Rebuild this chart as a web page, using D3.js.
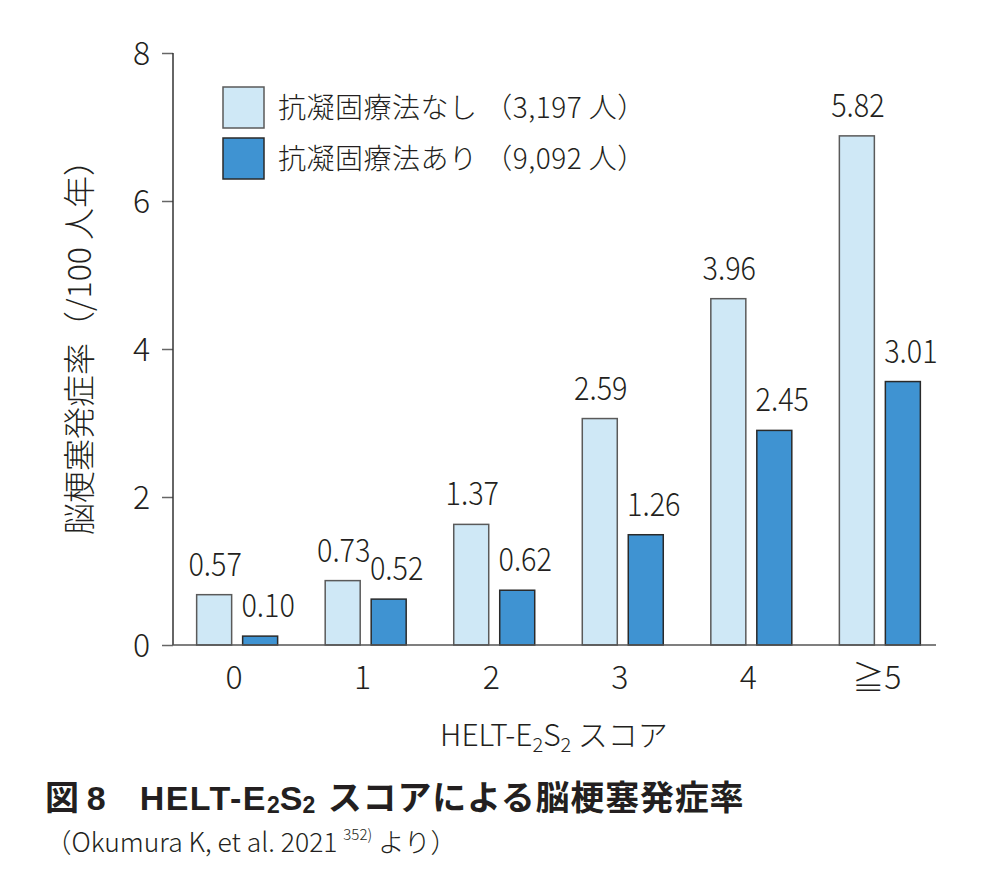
<!DOCTYPE html>
<html>
<head>
<meta charset="utf-8">
<script src="https://cdn.jsdelivr.net/npm/d3@7"></script>
<style>
  html, body { margin: 0; padding: 0; background: #fff; }
  svg text { font-family: "Noto Sans CJK JP", "Noto Sans", sans-serif; fill: #231f20; font-weight: 300; }
</style>
</head>
<body>
<div id="chart"></div>
<script>
// カテゴリ（HELT-E2S2 スコア）
const categories = ['0', '1', '2', '3', '4', '≧5'];
// 棒の高さ
const barsNone = [0.68, 0.87, 1.63, 3.06, 4.68, 6.88];
const barsWith = [0.12, 0.62, 0.74, 1.49, 2.90, 3.56];
// 棒の上の数値ラベル
const labelsNone = ['0.57', '0.73', '1.37', '2.59', '3.96', '5.82'];
const labelsWith = ['0.10', '0.52', '0.62', '1.26', '2.45', '3.01'];
const yTicks = [0, 2, 4, 6, 8];
const seriesNames = ['抗凝固療法なし （3,197 人）', '抗凝固療法あり （9,092 人）'];
const seriesKeys = ['none', 'with'];
const fills = ['#cfe8f6', '#3f93d2'];
const strokes = ['#5a5a5a', '#2a2a2a'];

const width = 1004;
const height = 894;

const svg = d3.select('#chart')
  .append('svg')
  .attr('width', width)
  .attr('height', height)
  .attr('viewBox', `0 0 ${width} ${height}`);

const x0 = 173;
const y = d3.scaleLinear().domain([0, 8]).range([645, 53]);

const x = d3.scaleBand()
  .domain(categories)
  .range([x0, 944])
  .paddingInner(0.37)
  .paddingOuter(0.184);

const xs = d3.scaleBand()
  .domain(seriesKeys)
  .range([0, x.bandwidth()])
  .paddingInner(0.239);

// 縦軸
const yAxis = d3.axisLeft(y).tickValues(yTicks).tickSize(11).tickPadding(12);
const gy = svg.append('g')
  .attr('transform', `translate(${x0},0)`)
  .call(yAxis);
gy.select('.domain').remove();
gy.selectAll('.tick line').attr('stroke', '#666').attr('stroke-width', 1.5);
gy.selectAll('.tick text')
  .style('font-size', '32px')
  .style('font-family', '"Noto Sans CJK JP", sans-serif')
  .attr('fill', '#231f20')
  .attr('dy', '0.36em');

svg.append('line')
  .attr('x1', x0).attr('x2', x0)
  .attr('y1', y(8)).attr('y2', y(0))
  .attr('stroke', '#333').attr('stroke-width', 1.5);

// 棒
const groups = svg.append('g')
  .selectAll('g')
  .data(categories)
  .join('g')
  .attr('transform', d => `translate(${x(d)},0)`);

const rows = (i) => [
  { key: 'none', v: barsNone[i], label: labelsNone[i] },
  { key: 'with', v: barsWith[i], label: labelsWith[i] }
];

groups.selectAll('rect')
  .data((d, i) => rows(i))
  .join('rect')
  .attr('x', d => xs(d.key))
  .attr('width', xs.bandwidth())
  .attr('y', d => y(d.v))
  .attr('height', d => y(0) - y(d.v))
  .attr('fill', (d, j) => fills[j])
  .attr('stroke', (d, j) => strokes[j])
  .attr('stroke-width', 1.5);

// 数値ラベル（少し細身に）
groups.selectAll('text.val')
  .data((d, i) => rows(i))
  .join('text')
  .attr('class', 'val')
  .attr('transform', d => {
    const cx = xs(d.key) + xs.bandwidth() / 2 + (d.key === 'none' ? 1 : 8);
    return `translate(${cx},${y(d.v) - 19}) scale(0.9,1)`;
  })
  .attr('text-anchor', 'middle')
  .style('font-size', '32px')
  .text(d => d.label);

// 横軸の基線
svg.append('line')
  .attr('x1', x0).attr('x2', 936)
  .attr('y1', y(0)).attr('y2', y(0))
  .attr('stroke', '#555').attr('stroke-width', 1.5);

// 横軸ラベル
svg.append('g')
  .selectAll('text')
  .data(categories)
  .join('text')
  .attr('x', d => x(d) + x.bandwidth() / 2 - 3)
  .attr('y', 689)
  .attr('text-anchor', 'middle')
  .style('font-size', '32px')
  .text(d => d);

// 凡例
const legend = svg.append('g').attr('transform', 'translate(223,87)');
seriesNames.forEach((name, i) => {
  const row = legend.append('g').attr('transform', `translate(0,${i * 51})`);
  row.append('rect')
    .attr('width', 41).attr('height', 41)
    .attr('fill', fills[i])
    .attr('stroke', strokes[i])
    .attr('stroke-width', 1.5);
  row.append('text')
    .attr('x', 55).attr('y', 31)
    .style('font-size', '28px')
    .style('letter-spacing', '0.5px')
    .text(name);
});

// 縦軸タイトル
svg.append('text')
  .attr('transform', 'translate(91,535) rotate(-90)')
  .attr('text-anchor', 'start')
  .style('font-size', '32px')
  .text('脳梗塞発症率（/100 人年）');

// 横軸タイトル
const xt = svg.append('text')
  .attr('x', 554).attr('y', 746)
  .attr('text-anchor', 'middle')
  .style('font-size', '30px');
xt.append('tspan').text('HELT-E');
xt.append('tspan').attr('dy', 6).style('font-size', '20px').text('2');
xt.append('tspan').attr('dy', -6).text('S');
xt.append('tspan').attr('dy', 6).style('font-size', '20px').text('2');
xt.append('tspan').attr('dy', -6).text(' スコア');

// 図タイトル
const tt = svg.append('text')
  .attr('x', 45).attr('y', 810)
  .style('font-size', '34px')
  .style('font-weight', 700);
tt.append('tspan').text('図 ');
tt.append('tspan').style('font-family', '"Liberation Sans", sans-serif').text('8');
tt.append('tspan').attr('dx', 34)
  .style('font-family', '"Liberation Sans", sans-serif')
  .style('letter-spacing', '1.5px')
  .text('HELT-E');
tt.append('tspan').attr('dy', 3).style('font-size', '23px')
  .style('font-family', '"Liberation Sans", sans-serif').text('2');
tt.append('tspan').attr('dy', -3)
  .style('font-family', '"Liberation Sans", sans-serif').text('S');
tt.append('tspan').attr('dy', 3).style('font-size', '23px')
  .style('font-family', '"Liberation Sans", sans-serif').text('2');
tt.append('tspan').attr('dy', -3).attr('dx', 4)
  .style('letter-spacing', '0.8px')
  .text(' スコアによる脳梗塞発症率');

// 出典
const ct = svg.append('text')
  .attr('x', 45).attr('y', 852)
  .style('font-size', '26.5px');
ct.append('tspan').text('（Okumura K, et al. 2021 ');
ct.append('tspan').attr('dy', -12).style('font-size', '15px').text('352)');
ct.append('tspan').attr('dy', 12).text(' より）');
</script>
</body>
</html>
